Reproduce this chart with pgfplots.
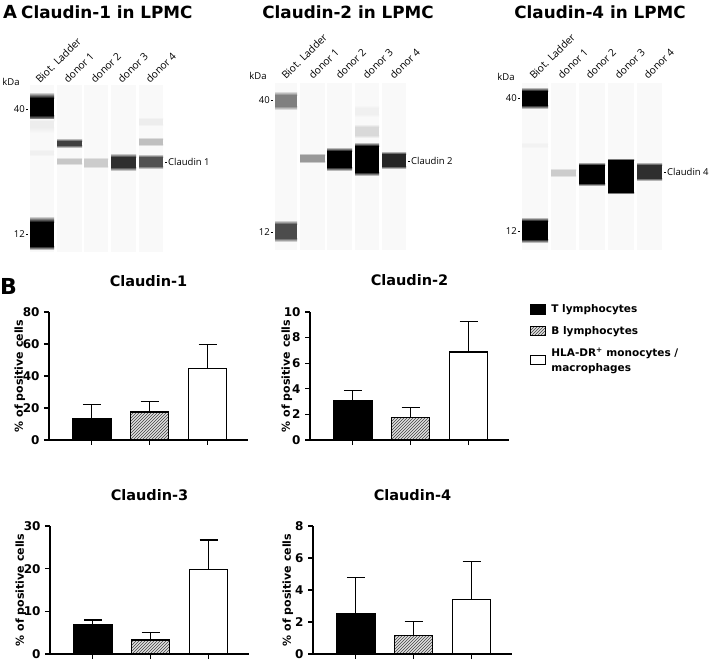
\documentclass[border=0pt]{standalone}
\usepackage{fontspec}
\setmainfont{DejaVu Sans}
\newfontfamily\gelfont{Open Sans}
\usepackage{pgfplots}
\pgfplotsset{compat=1.18}
\usetikzlibrary{patterns}
\definecolor{lanebg}{gray}{0.975}
% band: x1 x2 ytop ycore1 ycore2 ybot colour
\newcommand{\band}[7]{%
 \addplot[draw=none, top color=lanebg, bottom color=#7] coordinates {(#1,#3) (#2,#3) (#2,#4) (#1,#4)} -- cycle;
 \addplot[draw=none, fill=#7] coordinates {(#1,#4) (#2,#4) (#2,#5) (#1,#5)} -- cycle;
 \addplot[draw=none, top color=#7, bottom color=lanebg] coordinates {(#1,#5) (#2,#5) (#2,#6) (#1,#6)} -- cycle;
}
\newcommand{\lane}[4]{%
 \addplot[draw=none, fill=lanebg] coordinates {(#1,#3) (#2,#3) (#2,#4) (#1,#4)} -- cycle;
}
\pgfplotsset{
 barax/.style={
  scale only axis, width=199pt, height=128pt, anchor=south west,
  axis lines*=left, axis line style={line width=1.5pt, -},
  xmin=-0.74, xmax=2.7, ymin=0,
  xtick={0,1,2}, xticklabels={,,},
  tick style={line width=1.3pt, black}, major tick length=5pt, tick align=outside,
  ticklabel style={font=\bfseries\fontsize{12}{13}\selectfont},
  /pgf/number format/assume math mode=true,
  yticklabel style={xshift=-1pt},
  title style={font=\bfseries\fontsize{14.5}{16}\selectfont, at={(0.5,1)}, anchor=base, yshift=20pt},
  every axis y label/.style={rotate=90, anchor=center, font=\bfseries\fontsize{11}{12}\selectfont},
  ylabel={\% of positive cells},
  clip=false,
 },
 ebars/.style={error bars/.cd, y dir=plus, y explicit, error bar style={line width=1.3pt, black},
   error mark options={rotate=90, mark size=9pt, line width=1.3pt, black}},
 tbar/.style={ybar, bar width=38pt, bar shift=0pt, fill=black, draw=black, line width=1.5pt, ebars},
 bbar/.style={ybar, bar width=38pt, bar shift=0pt, fill=black!12, draw=black, line width=1.5pt,
   postaction={pattern=north east lines, pattern color=black!75}, ebars},
 wbar/.style={ybar, bar width=38pt, bar shift=0pt, fill=white, draw=black, line width=1.5pt, ebars},
}
\begin{document}
\begin{tikzpicture}
\path[use as bounding box] (0,0) rectangle (713pt,-663pt);
% ---------------- Panel A: gels ----------------
\begin{axis}[at={(0pt,0pt)}, anchor=north west, scale only axis, width=713pt, height=663pt,
  xmin=0, xmax=713, ymin=0, ymax=663, y dir=reverse, hide axis, clip=false]
% lanes gel 1
\lane{30}{54}{85}{252}\lane{57}{82}{85}{252}\lane{84}{108}{85}{252}\lane{111}{136}{85}{252}\lane{139}{163}{85}{252}
% lanes gel 2
\lane{275}{297}{83}{250}\lane{300}{325}{83}{250}\lane{327}{352}{83}{250}\lane{355}{379}{83}{250}\lane{382}{406}{83}{250}
% lanes gel 3
\lane{522}{548}{83}{250}\lane{551}{576}{83}{250}\lane{579}{605}{83}{250}\lane{608}{634}{83}{250}\lane{637}{662}{83}{250}
% gel 1 bands
\band{30}{54}{92}{98}{115}{121}{black}
\band{30}{54}{119}{121}{127}{133}{black!7}
\band{30}{54}{149}{151}{154}{156}{black!6}
\band{30}{54}{216}{222}{246}{250}{black}
\band{57}{82}{138}{141}{145}{148}{black!75}
\band{57}{82}{157}{159}{163}{165}{black!22}
\band{84}{108}{157}{159}{166}{168}{black!20}
\band{111}{136}{153}{157}{167}{171}{black!82}
\band{139}{163}{117}{119}{124}{126}{black!7}
\band{139}{163}{137}{139}{144}{146}{black!25}
\band{139}{163}{154}{157}{166}{169}{black!68}
% gel 2 bands
\band{275}{297}{91}{95}{106}{110}{black!50}
\band{275}{297}{220}{224}{238}{242}{black!70}
\band{300}{325}{153}{155}{161}{163}{black!40}
\band{327}{352}{147}{151}{167}{171}{black}
\band{355}{379}{105}{108}{114}{117}{black!6}
\band{355}{379}{124}{127}{135}{138}{black!15}
\band{355}{379}{142}{146}{172}{176}{black}
\band{382}{406}{151}{154}{166}{169}{black!85}
% gel 3 bands
\band{522}{548}{87}{91}{105}{109}{black}
\band{522}{548}{142}{144}{146}{148}{black!5}
\band{522}{548}{217}{221}{239}{243}{black}
\band{551}{576}{168}{170}{175}{177}{black!20}
\band{579}{605}{162}{165}{183}{186}{black}
\band{608}{634}{158}{160}{192}{194}{black}
\band{637}{662}{162}{165}{178}{181}{black!82}
% titles
\node[anchor=base west, font=\bfseries\fontsize{18}{20}\selectfont, inner sep=0pt] at (axis cs:3,18.5) {A};
\node[anchor=base west, font=\bfseries\fontsize{16.8}{18}\selectfont, inner sep=0pt] at (axis cs:21,18.5) {Claudin-1 in LPMC};
\node[anchor=base, font=\bfseries\fontsize{16.8}{18}\selectfont, inner sep=0pt] at (axis cs:348,18.5) {Claudin-2 in LPMC};
\node[anchor=base, font=\bfseries\fontsize{16.8}{18}\selectfont, inner sep=0pt] at (axis cs:600,18.5) {Claudin-4 in LPMC};
\node[anchor=base west, font=\bfseries\fontsize{22}{24}\selectfont, inner sep=0pt] at (axis cs:0,294) {B};
\begin{scope}[font=\gelfont\fontsize{9.5}{11}\selectfont]
% gel 1 labels
\node[anchor=base, inner sep=0pt] at (axis cs:11,85) {kDa};
\node[anchor=east, inner sep=1pt] at (axis cs:26,109) {40};
\node[anchor=east, inner sep=1pt] at (axis cs:26,234) {12};
\draw (axis cs:26,109) -- (axis cs:28,109);
\draw (axis cs:26,234) -- (axis cs:28,234);
\draw (axis cs:165,162) -- (axis cs:167,162);
\node[anchor=west, inner sep=1pt] at (axis cs:167,162) {Claudin 1};
% gel 2 labels
\node[anchor=base, inner sep=0pt] at (axis cs:258,79) {kDa};
\node[anchor=east, inner sep=1pt] at (axis cs:271,100) {40};
\node[anchor=east, inner sep=1pt] at (axis cs:271,232) {12};
\draw (axis cs:271,100) -- (axis cs:273,100);
\draw (axis cs:271,232) -- (axis cs:273,232);
\draw (axis cs:408,161) -- (axis cs:410,161);
\node[anchor=west, inner sep=1pt] at (axis cs:410,161) {Claudin 2};
% gel 3 labels
\node[anchor=base, inner sep=0pt] at (axis cs:506,80) {kDa};
\node[anchor=east, inner sep=1pt] at (axis cs:518,98) {40};
\node[anchor=east, inner sep=1pt] at (axis cs:518,231) {12};
\draw (axis cs:518,98) -- (axis cs:520,98);
\draw (axis cs:518,231) -- (axis cs:520,231);
\draw (axis cs:664,172) -- (axis cs:666,172);
\node[anchor=west, inner sep=1pt] at (axis cs:666,172) {Claudin 4};
\end{scope}
\begin{scope}[font=\gelfont\fontsize{10.3}{12}\selectfont]
\node[anchor=base west, rotate=45, inner sep=0pt] at (axis cs:40,84) {Biot. Ladder};
\node[anchor=base west, rotate=45, inner sep=0pt] at (axis cs:68,84) {donor 1};
\node[anchor=base west, rotate=45, inner sep=0pt] at (axis cs:95,84) {donor 2};
\node[anchor=base west, rotate=45, inner sep=0pt] at (axis cs:122,84) {donor 3};
\node[anchor=base west, rotate=45, inner sep=0pt] at (axis cs:150,84) {donor 4};
\node[anchor=base west, rotate=45, inner sep=0pt] at (axis cs:286,80) {Biot. Ladder};
\node[anchor=base west, rotate=45, inner sep=0pt] at (axis cs:313,80) {donor 1};
\node[anchor=base west, rotate=45, inner sep=0pt] at (axis cs:340,80) {donor 2};
\node[anchor=base west, rotate=45, inner sep=0pt] at (axis cs:367,80) {donor 3};
\node[anchor=base west, rotate=45, inner sep=0pt] at (axis cs:394,80) {donor 4};
\node[anchor=base west, rotate=45, inner sep=0pt] at (axis cs:534,80) {Biot. Ladder};
\node[anchor=base west, rotate=45, inner sep=0pt] at (axis cs:562,80) {donor 1};
\node[anchor=base west, rotate=45, inner sep=0pt] at (axis cs:590,80) {donor 2};
\node[anchor=base west, rotate=45, inner sep=0pt] at (axis cs:619,80) {donor 3};
\node[anchor=base west, rotate=45, inner sep=0pt] at (axis cs:648,80) {donor 4};
\end{scope}
\end{axis}
% ---------------- Panel B: bar charts ----------------
\begin{axis}[barax, at={(49pt,-440pt)}, ymax=80, ytick={0,20,40,60,80}, title={Claudin-1},
  ylabel style={at={(axis description cs:-0.146,0.5)}}]
\addplot[tbar] coordinates {(0,13.1) +- (0,9.1)};
\addplot[bbar] coordinates {(1,17.6) +- (0,6.4)};
\addplot[wbar] coordinates {(2,44.7) +- (0,15.1)};
\end{axis}
\begin{axis}[barax, at={(310pt,-440pt)}, ymax=10, ytick={0,2,4,6,8,10}, title={Claudin-2},
  ylabel style={at={(axis description cs:-0.116,0.5)}},
  legend style={at={(axis description cs:1.09,1.09)}, anchor=north west, draw=none, fill=none,
    font=\bfseries\fontsize{10.5}{15}\selectfont, row sep=8pt, column sep=3pt,
    cells={anchor=west, align=left}}]
\addlegendimage{legend image code/.code={\draw[fill=black, line width=1.3pt] (0pt,-4.5pt) rectangle (15pt,4.5pt);}}
\addlegendimage{legend image code/.code={\draw[fill=black!12, line width=1.3pt, postaction={pattern=north east lines, pattern color=black!75}] (0pt,-4.5pt) rectangle (15pt,4.5pt);}}
\addlegendimage{legend image code/.code={\draw[fill=white, line width=1.3pt] (0pt,-4.5pt) rectangle (15pt,4.5pt);}}
\addplot[forget plot, tbar] coordinates {(0,3.05) +- (0,0.8)};
\addplot[forget plot, bbar] coordinates {(1,1.75) +- (0,0.77)};
\addplot[forget plot, wbar] coordinates {(2,6.88) +- (0,2.36)};
\legend{T lymphocytes, B lymphocytes, {HLA-DR\textsuperscript{+} monocytes /\\macrophages}}
\end{axis}
\begin{axis}[barax, at={(50pt,-654pt)}, ymax=30, ytick={0,10,20,30}, title={Claudin-3},
  ylabel style={at={(axis description cs:-0.146,0.5)}}]
\addplot[tbar] coordinates {(0,6.8) +- (0,1.2)};
\addplot[bbar] coordinates {(1,3.25) +- (0,1.85)};
\addplot[wbar] coordinates {(2,19.8) +- (0,6.9)};
\end{axis}
\begin{axis}[barax, at={(313pt,-654pt)}, ymax=8, ytick={0,2,4,6,8}, title={Claudin-4},
  ylabel style={at={(axis description cs:-0.126,0.5)}}]
\addplot[tbar] coordinates {(0,2.5) +- (0,2.3)};
\addplot[bbar] coordinates {(1,1.15) +- (0,0.88)};
\addplot[wbar] coordinates {(2,3.42) +- (0,2.35)};
\end{axis}
\end{tikzpicture}
\end{document}
